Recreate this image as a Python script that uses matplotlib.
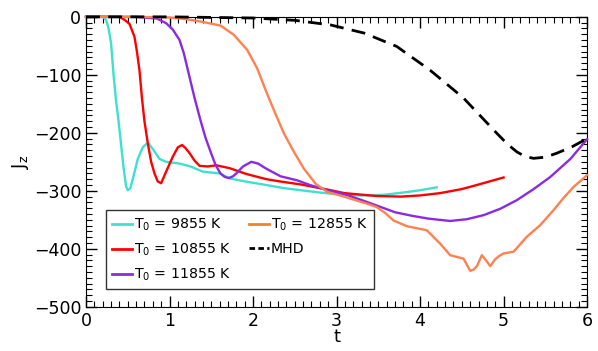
import numpy as np
import matplotlib
matplotlib.use('Agg')
import matplotlib.pyplot as plt
from matplotlib.lines import Line2D
from matplotlib.ticker import MultipleLocator

# ── data ──
t_9855 = [0.0, 0.2, 0.24, 0.27, 0.30, 0.33, 0.36, 0.39, 0.42, 0.45, 0.48, 0.50,
          0.53, 0.56, 0.62, 0.68, 0.74, 0.80, 0.88, 0.96, 1.12, 1.25, 1.40, 1.60,
          1.73, 1.95, 2.16, 2.35, 2.57, 2.8, 3.09, 3.3, 3.56, 3.8, 4.0, 4.20]
J_9855 = [0, 0, -5, -20, -45, -100, -145, -180, -220, -260, -292, -299,
          -296, -280, -245, -225, -217, -228, -245, -250, -253, -258, -267, -270,
          -279, -285, -290, -295, -299, -303, -307, -308, -307, -303, -299, -294]

t_10855 = [0.0, 0.4, 0.46, 0.52, 0.58, 0.61, 0.64, 0.67, 0.70, 0.74, 0.78, 0.82,
           0.86, 0.90, 0.95, 1.04, 1.10, 1.15, 1.19, 1.24, 1.30, 1.36, 1.46, 1.56,
           1.72, 1.92, 2.16, 2.33, 2.57, 2.93, 3.09, 3.48, 3.77, 4.0, 4.24, 4.5,
           4.68, 5.00]
J_10855 = [0, 0, -5, -12, -34, -60, -92, -140, -180, -218, -250, -270,
           -284, -287, -270, -241, -225, -221, -226, -235, -248, -257, -258, -256,
           -261, -271, -280, -284, -289, -299, -304, -309, -310, -308, -304, -297,
           -290, -277]

t_11855 = [0.0, 0.6, 0.85, 0.96, 1.04, 1.12, 1.17, 1.22, 1.30, 1.37, 1.43, 1.49,
           1.55, 1.61, 1.66, 1.71, 1.76, 1.80, 1.88, 1.98, 2.06, 2.16, 2.33, 2.53,
           2.68, 2.89, 3.12, 3.3, 3.53, 3.7, 3.9, 4.1, 4.36, 4.56, 4.76, 4.96,
           5.16, 5.36, 5.56, 5.8, 6.0]
J_11855 = [0, 0, -3, -11, -22, -40, -62, -92, -140, -178, -208, -232,
           -255, -270, -276, -278, -275, -270, -258, -250, -253, -262, -275, -282,
           -290, -299, -307, -316, -328, -337, -343, -348, -352, -349, -342, -331,
           -316, -297, -276, -245, -211]

t_12855 = [0.0, 0.6, 1.0, 1.2, 1.37, 1.61, 1.77, 1.93, 2.05, 2.15, 2.25, 2.37,
           2.49, 2.61, 2.75, 2.89, 3.09, 3.20, 3.36, 3.48, 3.58, 3.68, 3.84, 4.08,
           4.24, 4.36, 4.52, 4.60, 4.64, 4.68, 4.74, 4.79, 4.84, 4.90, 4.95, 5.00,
           5.12, 5.28, 5.44, 5.60, 5.72, 5.84, 6.00]
J_12855 = [0, 0, -1, -4, -8, -15, -31, -57, -89, -126, -161, -201,
           -233, -262, -288, -302, -310, -315, -322, -328, -338, -351, -361, -368,
           -391, -411, -417, -438, -436, -430, -411, -420, -430, -418, -412, -408,
           -405, -379, -359, -333, -312, -293, -273]

t_mhd = [0.0, 1.0, 2.0, 2.5, 2.93, 3.33, 3.72, 4.12, 4.52, 4.92, 5.05, 5.16,
         5.26, 5.36, 5.50, 5.64, 5.82, 6.0]
J_mhd = [0, 0, -2, -6, -14, -28, -51, -92, -140, -201, -220, -233,
         -241, -244, -242, -235, -224, -210]

labels = [r'T$_0$ = 9855 K', r'T$_0$ = 10855 K', r'T$_0$ = 11855 K',
          r'T$_0$ = 12855 K', 'MHD']

fig = plt.figure(figsize=(5.98, 3.51), dpi=100)
ax = fig.add_axes([0.1438, 0.126, 0.838, 0.826])

lw = 1.7
ax.plot(t_9855, J_9855, color='#40e0d0', lw=lw, clip_on=False, zorder=3)
ax.plot(t_10855, J_10855, color='#ff0000', lw=lw, clip_on=False, zorder=3)
ax.plot(t_11855, J_11855, color='#8a2be2', lw=lw, clip_on=False, zorder=3)
ax.plot(t_12855, J_12855, color='#ff8050', lw=lw, clip_on=False, zorder=3)
ax.plot(t_mhd, J_mhd, color='black', lw=2.0, ls=(0, (5, 3)),
        clip_on=False, zorder=3)

ax.set_xlim(0, 6)
ax.set_ylim(-500, 0)
ax.xaxis.set_major_locator(MultipleLocator(1))
ax.xaxis.set_minor_locator(MultipleLocator(0.1))
ax.yaxis.set_major_locator(MultipleLocator(100))
ax.yaxis.set_minor_locator(MultipleLocator(10))
ax.tick_params(which='both', direction='in', top=True, right=True, labelsize=12.5)
ax.tick_params(which='major', length=8, width=1)
ax.tick_params(which='minor', length=4, width=0.8)
ax.set_xlabel('t', fontsize=13, labelpad=-1)
ax.set_ylabel(r'J$_\mathregular{z}$', fontsize=13, labelpad=2)

# legend handles (orange handle is darker than the curve in the reference)
handles = [Line2D([], [], color='#40e0d0', lw=2),
           Line2D([], [], color='#ff0000', lw=2),
           Line2D([], [], color='#8a2be2', lw=2),
           Line2D([], [], color='#f58220', lw=2),
           Line2D([], [], color='black', lw=2, ls=(0, (2, 1.2)))]
leg = ax.legend(handles, labels, ncol=2, loc='lower left',
                bbox_to_anchor=(0.04, 0.06), borderaxespad=0, fontsize=10.2,
                frameon=True, fancybox=False, edgecolor='black',
                handlelength=1.4, handletextpad=0.1, columnspacing=1.3,
                labelspacing=0.6, borderpad=0.45)
leg.get_frame().set_linewidth(1.0)
leg.set_zorder(4)

fig.savefig('out.png', dpi=100)
